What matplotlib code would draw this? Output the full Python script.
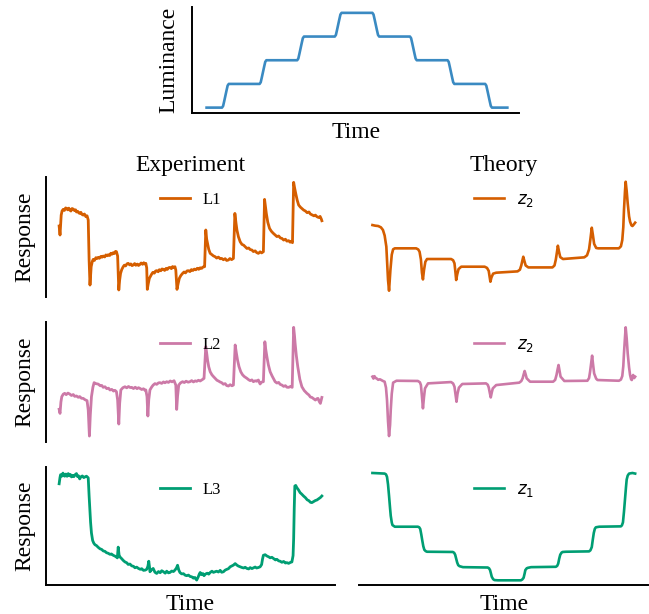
"""Luminance staircase stimulus with measured (L1-L3) and model (z1, z2) responses."""
import matplotlib
matplotlib.use("Agg")
import matplotlib.pyplot as plt

plt.rcParams["font.family"] = "serif"
plt.rcParams["font.serif"] = ["Liberation Serif", "DejaVu Serif"]

# ---- stimulus (time in step periods, luminance in steps) ----
lum_t = [0.00,
         0.41, 0.44, 0.47, 0.50, 0.53, 0.56, 0.59,
         1.41, 1.44, 1.47, 1.50, 1.53, 1.56, 1.59,
         2.41, 2.44, 2.47, 2.50, 2.53, 2.56, 2.59,
         3.41, 3.44, 3.47, 3.50, 3.53, 3.56, 3.59,
         4.41, 4.44, 4.47, 4.50, 4.53, 4.56, 4.59,
         5.41, 5.44, 5.47, 5.50, 5.53, 5.56, 5.59,
         6.41, 6.44, 6.47, 6.50, 6.53, 6.56, 6.59,
         7.41, 7.44, 7.47, 7.50, 7.53, 7.56, 7.59,
         8.00]
lum_v = [0,
         0, 0.07, 0.28, 0.5, 0.72, 0.93, 1,
         1, 1.07, 1.28, 1.5, 1.72, 1.93, 2,
         2, 2.07, 2.28, 2.5, 2.72, 2.93, 3,
         3, 3.07, 3.28, 3.5, 3.72, 3.93, 4,
         4, 3.93, 3.72, 3.5, 3.28, 3.07, 3,
         3, 2.93, 2.72, 2.5, 2.28, 2.07, 2,
         2, 1.93, 1.72, 1.5, 1.28, 1.07, 1,
         1, 0.93, 0.72, 0.5, 0.28, 0.07, 0,
         0]

# ---- experiment traces: (time s, response a.u.) ----
exp_l1 = [(0.00, 58.9), (0.03, 51.4), (0.07, 68.0), (0.10, 71.5), (0.14, 72.8), (0.18, 71.9),
          (0.22, 74.0), (0.25, 73.6), (0.29, 72.4), (0.33, 73.8), (0.36, 72.2), (0.40, 71.4),
          (0.44, 73.5), (0.48, 73.0), (0.52, 71.8), (0.56, 72.4), (0.59, 70.6), (0.63, 71.2),
          (0.67, 69.8), (0.70, 69.4), (0.74, 70.3), (0.78, 68.5), (0.82, 68.0), (0.86, 68.9),
          (0.91, 66.7), (0.95, 67.4), (0.99, 63.9),
          (1.02, 30.6), (1.05, 9.7), (1.09, 25.0), (1.13, 29.5), (1.16, 31.1), (1.20, 30.2),
          (1.25, 32.5), (1.29, 31.8), (1.33, 32.8), (1.37, 32.0), (1.42, 33.6), (1.46, 32.9),
          (1.50, 33.9), (1.55, 33.1), (1.59, 34.8), (1.63, 34.1), (1.67, 35.0), (1.72, 34.3),
          (1.76, 36.2), (1.80, 35.4), (1.84, 36.7), (1.88, 36.0), (1.92, 37.8), (1.95, 37.5),
          (1.99, 33.9),
          (2.03, 5.6), (2.06, 14.0), (2.09, 19.4), (2.13, 22.6), (2.18, 25.0), (2.22, 26.3),
          (2.26, 25.6), (2.31, 27.4), (2.35, 27.8), (2.40, 26.5), (2.44, 27.3), (2.48, 25.9),
          (2.52, 26.4), (2.57, 27.6), (2.61, 26.2), (2.66, 27.2), (2.70, 26.0), (2.75, 26.9),
          (2.79, 28.1), (2.84, 27.0), (2.88, 28.3), (2.92, 27.2), (2.95, 27.8), (2.98, 24.0),
          (3.00, 6.1), (3.03, 10.5), (3.07, 15.3), (3.11, 17.2), (3.15, 18.9), (3.19, 20.3),
          (3.24, 19.6), (3.28, 21.4), (3.32, 21.7), (3.37, 20.8), (3.41, 22.5), (3.46, 21.6),
          (3.50, 23.1), (3.55, 22.8), (3.59, 21.9), (3.64, 23.6), (3.68, 22.7), (3.73, 24.2),
          (3.77, 24.4), (3.82, 23.4), (3.86, 25.1), (3.90, 24.3), (3.94, 25.0), (3.97, 22.2),
          (4.01, 6.1), (4.05, 11.0), (4.09, 15.3), (4.14, 17.6), (4.20, 19.4), (4.25, 20.6),
          (4.30, 19.8), (4.35, 21.5), (4.40, 21.7), (4.45, 20.9), (4.50, 22.6), (4.55, 21.8),
          (4.60, 23.0), (4.65, 22.4), (4.70, 23.7), (4.75, 22.8), (4.80, 24.1), (4.85, 23.6),
          (4.90, 24.8), (4.95, 25.0),
          (4.99, 55.6), (5.02, 48.0), (5.05, 44.4), (5.09, 39.5), (5.14, 36.1), (5.19, 35.2),
          (5.25, 34.0), (5.31, 33.3), (5.36, 32.2), (5.42, 33.0), (5.48, 31.6), (5.53, 31.9),
          (5.59, 30.8), (5.65, 31.7), (5.70, 30.2), (5.76, 30.6), (5.81, 31.8), (5.87, 30.9),
          (5.93, 31.9),
          (5.98, 69.4), (6.02, 61.0), (6.05, 55.6), (6.10, 50.0), (6.16, 45.8), (6.22, 43.6),
          (6.28, 42.9), (6.33, 41.7), (6.39, 40.2), (6.45, 40.6), (6.50, 39.3), (6.56, 38.9),
          (6.61, 37.6), (6.67, 38.2), (6.72, 36.8), (6.78, 36.1), (6.84, 37.4), (6.89, 36.5),
          (6.95, 37.5),
          (6.99, 81.1), (7.02, 75.0), (7.05, 69.4), (7.10, 62.0), (7.16, 56.9), (7.22, 54.6),
          (7.28, 53.0), (7.35, 51.4), (7.41, 50.1), (7.47, 50.6), (7.53, 48.9), (7.58, 48.6),
          (7.64, 47.2), (7.70, 47.9), (7.75, 46.3), (7.81, 46.7), (7.86, 45.4), (7.90, 46.2),
          (7.94, 45.0),
          (7.98, 95.3), (8.01, 91.0), (8.05, 86.1), (8.10, 80.5), (8.15, 76.4), (8.21, 74.6),
          (8.26, 73.5), (8.32, 72.2), (8.38, 71.4), (8.44, 70.0), (8.50, 70.6), (8.55, 68.9),
          (8.61, 68.2), (8.67, 67.4), (8.72, 68.0), (8.77, 66.7), (8.83, 66.0), (8.88, 66.9),
          (8.92, 64.8), (8.94, 63.3)]

exp_l2 = [(0.00, 27.0), (0.03, 23.6), (0.06, 33.0), (0.09, 37.5), (0.14, 39.6), (0.19, 40.3),
          (0.24, 39.2), (0.30, 40.5), (0.36, 39.7), (0.42, 38.5), (0.48, 39.3), (0.53, 37.8),
          (0.59, 38.1), (0.65, 37.0), (0.70, 37.6), (0.76, 36.2), (0.82, 36.1), (0.88, 35.0),
          (0.95, 34.2), (0.99, 26.4),
          (1.03, 4.7), (1.06, 22.0), (1.10, 37.5), (1.15, 45.5), (1.19, 49.2), (1.25, 48.4),
          (1.33, 48.0), (1.40, 46.6), (1.45, 46.9), (1.50, 45.3), (1.56, 45.8), (1.62, 44.2),
          (1.68, 44.6), (1.73, 43.1), (1.79, 43.6), (1.85, 42.2), (1.90, 42.8), (1.95, 41.7),
          (1.99, 34.7),
          (2.03, 14.7), (2.06, 32.0), (2.10, 43.1), (2.17, 45.0), (2.24, 45.8), (2.30, 44.9),
          (2.36, 46.0), (2.42, 45.1), (2.47, 45.3), (2.53, 44.3), (2.59, 45.4), (2.65, 44.2),
          (2.70, 45.0), (2.75, 44.4), (2.81, 43.5), (2.87, 44.1), (2.92, 42.9), (2.95, 43.1),
          (2.99, 37.5),
          (3.02, 21.4), (3.05, 35.0), (3.09, 43.1), (3.15, 45.6), (3.20, 47.2), (3.26, 48.4),
          (3.32, 47.8), (3.38, 49.0), (3.43, 49.2), (3.49, 48.6), (3.55, 49.8), (3.60, 49.1),
          (3.66, 50.0), (3.72, 49.4), (3.78, 50.6), (3.84, 49.9), (3.91, 50.8), (3.97, 47.2),
          (4.00, 26.9), (4.03, 38.0), (4.07, 47.2), (4.13, 49.0), (4.20, 50.0), (4.26, 49.3),
          (4.32, 50.4), (4.39, 49.6), (4.45, 50.0), (4.51, 50.9), (4.57, 49.8), (4.63, 50.7),
          (4.68, 50.3), (4.74, 51.2), (4.80, 50.6), (4.85, 51.4), (4.90, 52.2), (4.93, 52.8),
          (4.99, 79.2), (5.02, 74.0), (5.05, 68.1), (5.09, 62.5), (5.14, 58.3), (5.20, 55.7),
          (5.25, 54.3), (5.31, 52.8), (5.37, 51.2), (5.42, 50.6), (5.48, 49.7), (5.53, 49.2),
          (5.59, 47.9), (5.65, 48.4), (5.70, 46.8), (5.76, 46.4), (5.82, 47.5), (5.88, 46.6),
          (5.93, 47.2),
          (5.99, 80.6), (6.03, 74.0), (6.07, 68.1), (6.12, 62.6), (6.18, 58.3), (6.24, 55.8),
          (6.30, 54.3), (6.39, 52.8), (6.45, 51.6), (6.50, 50.9), (6.56, 51.5), (6.61, 50.0),
          (6.67, 50.8), (6.72, 50.4), (6.78, 51.4), (6.81, 49.5), (6.84, 48.1), (6.88, 49.6),
          (6.95, 50.0),
          (7.00, 83.3), (7.03, 77.0), (7.07, 70.8), (7.12, 64.0), (7.18, 58.3), (7.25, 54.6),
          (7.30, 52.2), (7.35, 50.0), (7.41, 48.9), (7.47, 49.4), (7.52, 47.8), (7.58, 47.2),
          (7.64, 46.1), (7.70, 46.7), (7.75, 45.4), (7.81, 45.3), (7.87, 46.0), (7.93, 45.3),
          (7.98, 95.3), (8.01, 88.0), (8.03, 81.9), (8.07, 72.0), (8.12, 62.5), (8.19, 52.0),
          (8.26, 45.8), (8.34, 42.6), (8.43, 40.3), (8.50, 38.9), (8.55, 37.2), (8.60, 36.9),
          (8.66, 35.8), (8.72, 34.7), (8.77, 35.8), (8.81, 36.1), (8.85, 33.5), (8.89, 31.9),
          (8.92, 35.0), (8.94, 36.9)]

exp_l3 = [(0.00, 85.6), (0.03, 91.0), (0.05, 93.3), (0.09, 92.0), (0.13, 94.6), (0.16, 92.5),
          (0.19, 92.0), (0.23, 93.8), (0.27, 91.9), (0.31, 94.2), (0.35, 92.3), (0.38, 93.5),
          (0.42, 91.4), (0.46, 92.7), (0.50, 91.6), (0.55, 93.4), (0.59, 94.2), (0.62, 91.8),
          (0.66, 92.3), (0.70, 89.7), (0.74, 91.5), (0.79, 92.2), (0.84, 90.8), (0.88, 91.4),
          (0.93, 92.0), (0.99, 90.6),
          (1.02, 75.3), (1.05, 62.0), (1.07, 53.1), (1.10, 44.0), (1.14, 37.8), (1.18, 35.5),
          (1.22, 34.2), (1.27, 33.5), (1.33, 32.0), (1.39, 30.8), (1.45, 30.2), (1.50, 29.0),
          (1.56, 28.6), (1.61, 27.5), (1.67, 27.0), (1.73, 26.1), (1.78, 26.4), (1.84, 25.3),
          (1.90, 24.6), (1.95, 23.8), (1.98, 23.1), (2.01, 32.2), (2.04, 25.5), (2.07, 23.9),
          (2.13, 22.4), (2.18, 21.0), (2.24, 19.7), (2.30, 19.0), (2.35, 17.6), (2.41, 17.9),
          (2.47, 16.4), (2.53, 16.0), (2.58, 14.8), (2.64, 15.3), (2.70, 14.2), (2.76, 13.5),
          (2.81, 14.0), (2.87, 12.6), (2.93, 12.8), (2.98, 13.5), (3.02, 16.0), (3.05, 20.3),
          (3.08, 14.5), (3.09, 11.4), (3.14, 13.0), (3.20, 14.2), (3.26, 11.0), (3.32, 10.0),
          (3.38, 11.6), (3.44, 10.6), (3.49, 12.3), (3.55, 11.4), (3.61, 10.2), (3.66, 11.9),
          (3.72, 10.5), (3.77, 10.8), (3.83, 12.0), (3.89, 11.6), (3.94, 12.8), (3.99, 14.5),
          (4.03, 16.9), (4.07, 13.0), (4.11, 10.8), (4.17, 9.6), (4.23, 9.8), (4.29, 8.5),
          (4.34, 8.1), (4.40, 8.6), (4.46, 7.4), (4.51, 7.2), (4.57, 6.0), (4.62, 6.6),
          (4.68, 4.4), (4.73, 6.9), (4.77, 9.5), (4.80, 10.8), (4.84, 9.0), (4.89, 9.9),
          (4.93, 8.1), (4.98, 9.5), (5.04, 10.2), (5.09, 9.4), (5.14, 10.8), (5.20, 11.9),
          (5.25, 10.9), (5.31, 11.5), (5.36, 11.9), (5.42, 11.2), (5.48, 12.6), (5.53, 11.0),
          (5.59, 11.4), (5.65, 12.8), (5.70, 13.4), (5.76, 14.0), (5.82, 15.6), (5.87, 16.2),
          (5.93, 17.0), (5.99, 18.3), (6.05, 17.0), (6.10, 16.2), (6.16, 15.6), (6.22, 15.0),
          (6.28, 14.6), (6.33, 15.2), (6.39, 14.2), (6.45, 13.8), (6.50, 14.9), (6.56, 14.1),
          (6.61, 14.7), (6.67, 15.4), (6.72, 14.6), (6.78, 15.0), (6.84, 15.6), (6.89, 17.5),
          (6.92, 22.0), (6.95, 25.3), (7.01, 25.8), (7.07, 24.7), (7.13, 24.0), (7.18, 23.2),
          (7.24, 23.6), (7.30, 22.5), (7.36, 21.4), (7.41, 21.9), (7.47, 20.6), (7.52, 20.3),
          (7.58, 19.4), (7.64, 20.1), (7.70, 18.8), (7.75, 19.1), (7.81, 18.5), (7.87, 19.3),
          (7.92, 19.7), (7.96, 25.0), (7.98, 39.2), (8.00, 65.0), (8.02, 83.7), (8.05, 84.2),
          (8.09, 82.3), (8.14, 80.6), (8.20, 78.1), (8.25, 77.0), (8.32, 75.2), (8.38, 73.9),
          (8.44, 72.1), (8.50, 71.3), (8.55, 70.0), (8.60, 69.7), (8.66, 70.6), (8.72, 71.5),
          (8.77, 71.9), (8.83, 73.0), (8.89, 74.0), (8.94, 75.3)]

# ---- model traces: (time in step periods, response a.u.) ----
th_z2a = [(0.00, 59.7), (0.08, 59.2), (0.17, 58.9), (0.25, 57.8), (0.31, 55.6), (0.36, 51.0),
          (0.41, 41.7), (0.46, 13.9), (0.49, 5.0), (0.53, 22.2), (0.57, 35.0), (0.61, 39.5),
          (0.66, 40.3), (1.29, 40.3), (1.35, 39.4), (1.39, 37.5), (1.43, 31.0), (1.46, 20.0),
          (1.49, 14.4), (1.52, 22.0), (1.56, 29.0), (1.61, 31.4), (2.32, 31.4), (2.38, 30.4),
          (2.42, 27.8), (2.45, 20.0), (2.47, 13.9), (2.50, 18.5), (2.54, 23.0), (2.62, 25.0),
          (3.31, 25.0), (3.38, 24.0), (3.43, 21.5), (3.46, 16.0), (3.48, 12.5), (3.51, 16.0),
          (3.56, 19.2), (3.65, 20.0), (4.28, 21.1), (4.35, 22.5), (4.39, 26.0), (4.43, 31.0),
          (4.45, 33.3), (4.48, 30.0), (4.52, 26.0), (4.60, 24.4), (5.31, 24.4), (5.37, 26.0),
          (5.41, 31.0), (5.45, 38.5), (5.47, 42.5), (5.50, 38.0), (5.54, 33.0), (5.62, 31.4),
          (6.25, 32.8), (6.33, 34.5), (6.39, 39.5), (6.43, 48.0), (6.47, 57.5), (6.50, 52.0),
          (6.54, 44.0), (6.60, 40.6), (6.66, 40.3), (7.27, 40.3), (7.33, 42.0), (7.37, 47.2),
          (7.40, 58.0), (7.42, 72.2), (7.45, 88.0), (7.47, 95.8), (7.50, 88.0), (7.53, 77.8),
          (7.57, 67.0), (7.60, 62.5), (7.64, 59.5), (7.67, 58.9), (7.71, 60.2), (7.75, 61.7)]

th_z2b = [(0.00, 54.2), (0.03, 52.6), (0.06, 54.6), (0.09, 53.1), (0.12, 52.8), (0.17, 51.6),
          (0.22, 52.0), (0.26, 51.4), (0.31, 50.6), (0.36, 50.0), (0.40, 45.0), (0.43, 34.7),
          (0.46, 17.0), (0.49, 4.7), (0.52, 14.0), (0.54, 26.4), (0.57, 40.0), (0.61, 49.2),
          (0.71, 50.8), (1.34, 50.6), (1.40, 49.5), (1.43, 47.2), (1.46, 38.0), (1.49, 27.8),
          (1.52, 37.0), (1.55, 44.4), (1.64, 48.6), (2.32, 49.7), (2.38, 48.5), (2.42, 45.8),
          (2.45, 39.5), (2.48, 33.3), (2.51, 40.0), (2.55, 45.0), (2.65, 48.1), (3.35, 48.6),
          (3.40, 47.5), (3.43, 45.3), (3.46, 41.0), (3.49, 36.9), (3.52, 41.0), (3.55, 44.4),
          (3.65, 47.2), (4.33, 49.2), (4.39, 50.5), (4.43, 52.8), (4.46, 56.0), (4.49, 58.9),
          (4.52, 56.0), (4.55, 52.8), (4.65, 50.0), (5.33, 50.0), (5.39, 51.5), (5.43, 55.6),
          (5.46, 60.0), (5.49, 63.9), (5.52, 59.0), (5.55, 54.2), (5.66, 50.6), (6.34, 50.8),
          (6.39, 53.0), (6.42, 58.3), (6.45, 65.0), (6.48, 71.7), (6.51, 64.0), (6.54, 56.9),
          (6.60, 52.5), (6.64, 51.4), (7.27, 50.8), (7.33, 51.8), (7.37, 54.7), (7.40, 63.0),
          (7.42, 73.6), (7.45, 87.0), (7.47, 95.3), (7.50, 86.0), (7.53, 73.6), (7.57, 62.0),
          (7.60, 55.6), (7.63, 52.0), (7.65, 51.4), (7.67, 54.0), (7.69, 55.6), (7.72, 53.0),
          (7.75, 54.2)]

th_z1 = [(0.00, 94.7), (0.36, 94.2), (0.40, 93.5), (0.43, 91.4), (0.46, 85.0), (0.49, 75.3),
         (0.52, 65.0), (0.54, 58.6), (0.57, 53.0), (0.59, 50.8), (0.66, 49.4), (1.34, 49.4),
         (1.38, 48.9), (1.41, 47.5), (1.44, 43.0), (1.47, 37.8), (1.50, 33.0), (1.53, 30.0),
         (1.57, 28.8), (1.61, 28.3), (2.37, 28.1), (2.41, 27.4), (2.44, 25.8), (2.47, 22.5),
         (2.50, 19.2), (2.53, 17.0), (2.57, 16.1), (2.67, 15.3), (3.40, 15.0), (3.44, 14.3),
         (3.47, 12.8), (3.50, 9.5), (3.52, 7.2), (3.56, 5.2), (3.60, 4.4), (3.70, 4.2),
         (4.38, 4.2), (4.42, 4.9), (4.46, 6.4), (4.49, 10.0), (4.51, 12.8), (4.55, 14.3),
         (4.58, 14.7), (4.68, 15.3), (5.41, 15.6), (5.45, 16.4), (5.48, 18.3), (5.51, 22.5),
         (5.54, 25.8), (5.58, 27.6), (5.61, 28.1), (5.71, 28.3), (6.39, 28.6), (6.43, 29.5),
         (6.47, 32.2), (6.50, 38.5), (6.53, 44.2), (6.56, 47.6), (6.59, 48.9), (6.69, 49.4),
         (7.33, 49.7), (7.36, 50.6), (7.39, 53.1), (7.42, 62.0), (7.45, 72.5), (7.48, 83.0),
         (7.50, 89.2), (7.53, 92.5), (7.57, 94.2), (7.67, 94.7), (7.75, 94.2)]

col_titles = ["Experiment", "Theory"]
exp_labels = ["L1", "L2", "L3"]
th_labels = ["$z_2$", "$z_2$", "$z_1$"]
colors = ["#d55e00", "#cc79a7", "#009e73"]
lum_color = "#3a8ac2"

W, H = 649, 614
fig = plt.figure(figsize=(W / 100, H / 100), dpi=100)


def px_axes(x0, y0, x1, y1):
    # axes box given in pixel coordinates (top-left origin)
    return fig.add_axes([x0 / W, 1 - y1 / H, (x1 - x0) / W, (y1 - y0) / H])


def strip(ax, keep):
    ax.set_xticks([])
    ax.set_yticks([])
    for side in ["left", "right", "top", "bottom"]:
        ax.spines[side].set_visible(side in keep)
        ax.spines[side].set_linewidth(1.4)


# stimulus panel
ax = px_axes(192.3, 6.7, 519, 113.3)
ax.plot(lum_t, lum_v, color=lum_color, lw=1.9)
ax.set_xlim(-0.38, 8.31)
ax.set_ylim(-0.24, 4.26)
strip(ax, ["left", "bottom"])
ax.set_xlabel("Time", fontsize=17, labelpad=6)
ax.set_ylabel("Luminance", fontsize=17, labelpad=9)

row_tops = [176.7, 321.7, 466.7]
row_bots = [296.7, 441.7, 585.3]
exp_traces = [exp_l1, exp_l2, exp_l3]
th_traces = [th_z2a, th_z2b, th_z1]

for r in range(3):
    axl = px_axes(46, row_tops[r], 335, row_bots[r])
    axr = px_axes(359.3, row_tops[r], 648.3, row_bots[r])

    t, v = zip(*exp_traces[r])
    axl.plot(t, v, color=colors[r], lw=2.0, label=exp_labels[r])
    t, v = zip(*th_traces[r])
    axr.plot(t, v, color=colors[r], lw=1.9, label=th_labels[r])

    for a in (axl, axr):
        a.set_ylim(0, 100)
        a.margins(x=0.05)
        a.legend(loc="upper center", frameon=False, fontsize=12, handlelength=1.8)

    axl.set_ylabel("Response", fontsize=17, labelpad=8)
    if r == 0:
        axl.set_title(col_titles[0], fontsize=17, pad=4)
        axr.set_title(col_titles[1], fontsize=17, pad=4)
    if r == 2:
        strip(axl, ["left", "bottom"])
        strip(axr, ["bottom"])
        axl.set_xlabel("Time", fontsize=17, labelpad=6)
        axr.set_xlabel("Time", fontsize=17, labelpad=6)
    else:
        strip(axl, ["left"])
        strip(axr, [])

fig.savefig("out.png", dpi=100)
